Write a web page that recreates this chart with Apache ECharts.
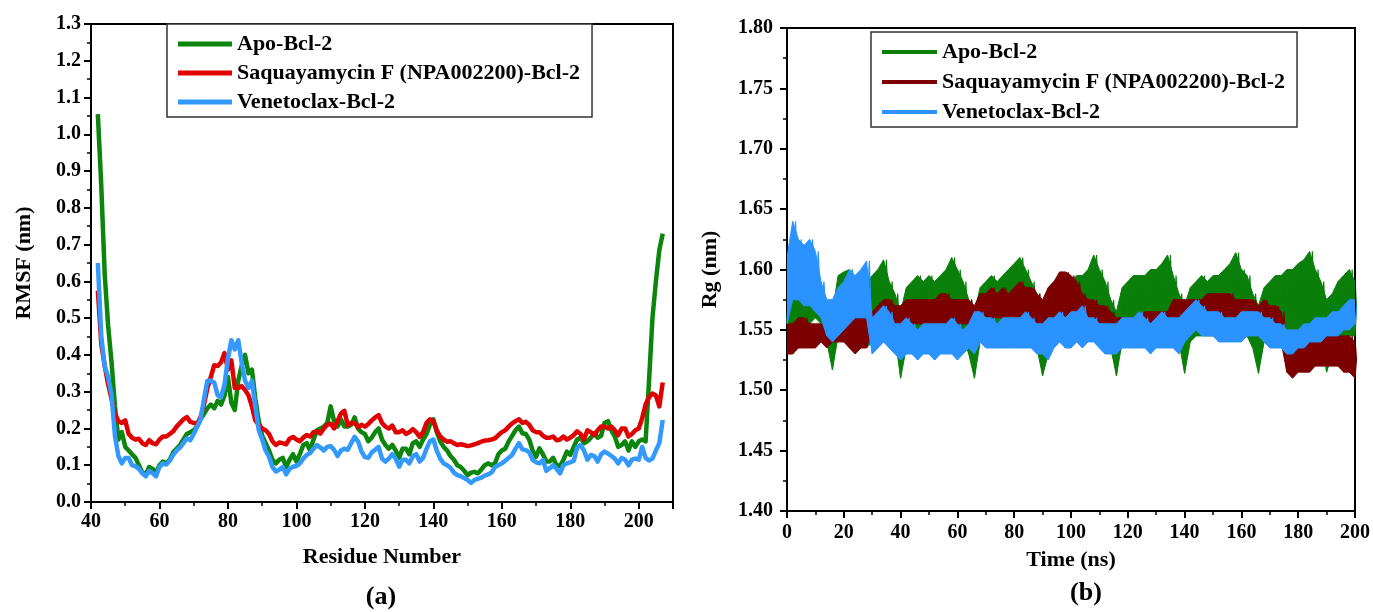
<!DOCTYPE html>
<html>
<head>
<meta charset="utf-8">
<script src="https://cdn.jsdelivr.net/npm/echarts/dist/echarts.min.js"></script>
<style>
  html, body { margin: 0; padding: 0; background: #ffffff; }
  #chart { width: 1373px; height: 612px; }
</style>
</head>
<body>
<div id="chart"></div>
<script>
// ---------- (a) RMSF per residue, residues 42..207 ----------
const firstResidue = 42;
const rmsfApo = [
  1.055, 0.86, 0.62, 0.48, 0.38, 0.26, 0.17, 0.19, 0.15, 0.14,
  0.13, 0.12, 0.10, 0.08, 0.075, 0.095, 0.09, 0.08, 0.10, 0.11,
  0.105, 0.115, 0.135, 0.145, 0.155, 0.17, 0.185, 0.19, 0.195, 0.205,
  0.225, 0.24, 0.255, 0.265, 0.255, 0.275, 0.265, 0.29, 0.34, 0.27,
  0.25, 0.33, 0.37, 0.40, 0.35, 0.36, 0.28, 0.22, 0.18, 0.16,
  0.14, 0.115, 0.105, 0.115, 0.12, 0.095, 0.115, 0.13, 0.11, 0.13,
  0.155, 0.16, 0.14, 0.17, 0.195, 0.20, 0.205, 0.215, 0.26, 0.22,
  0.205, 0.225, 0.205, 0.205, 0.21, 0.23, 0.20, 0.19, 0.185, 0.165,
  0.175, 0.19, 0.20, 0.17, 0.155, 0.145, 0.155, 0.14, 0.12, 0.145,
  0.145, 0.13, 0.16, 0.165, 0.15, 0.17, 0.185, 0.21, 0.225, 0.19,
  0.165, 0.15, 0.14, 0.125, 0.115, 0.10, 0.095, 0.085, 0.073, 0.08,
  0.082, 0.078, 0.088, 0.10, 0.105, 0.10, 0.105, 0.13, 0.14, 0.145,
  0.165, 0.18, 0.195, 0.205, 0.187, 0.185, 0.17, 0.14, 0.123, 0.146,
  0.13, 0.11, 0.11, 0.12, 0.10, 0.098, 0.115, 0.137, 0.128, 0.15,
  0.17, 0.175, 0.16, 0.165, 0.175, 0.187, 0.175, 0.18, 0.215, 0.22,
  0.195, 0.178, 0.15, 0.155, 0.165, 0.14, 0.165, 0.15, 0.165, 0.17,
  0.165, 0.33, 0.50, 0.60, 0.685, 0.73
];
const rmsfSaq = [
  0.575, 0.43, 0.37, 0.32, 0.28, 0.24, 0.22, 0.215, 0.222, 0.185,
  0.175, 0.17, 0.172, 0.16, 0.155, 0.168, 0.16, 0.157, 0.17, 0.178,
  0.178, 0.185, 0.192, 0.205, 0.215, 0.225, 0.231, 0.218, 0.215, 0.213,
  0.23, 0.265, 0.31, 0.34, 0.372, 0.37, 0.38, 0.405, 0.36, 0.385,
  0.31, 0.31, 0.315, 0.305, 0.29, 0.26, 0.222, 0.21, 0.20, 0.195,
  0.185, 0.165, 0.155, 0.162, 0.16, 0.157, 0.172, 0.177, 0.17, 0.165,
  0.175, 0.182, 0.178, 0.19, 0.192, 0.186, 0.20, 0.21, 0.213, 0.20,
  0.22, 0.24, 0.248, 0.209, 0.215, 0.215, 0.204, 0.21, 0.205, 0.212,
  0.222, 0.23, 0.236, 0.215, 0.205, 0.20, 0.208, 0.19, 0.19, 0.195,
  0.185, 0.19, 0.198, 0.19, 0.177, 0.19, 0.215, 0.225, 0.22, 0.195,
  0.178, 0.17, 0.164, 0.165, 0.16, 0.155, 0.157, 0.155, 0.152, 0.154,
  0.157, 0.16, 0.164, 0.167, 0.168, 0.17, 0.173, 0.182, 0.19, 0.195,
  0.205, 0.214, 0.22, 0.225, 0.215, 0.218, 0.21, 0.195, 0.19, 0.19,
  0.18, 0.175, 0.175, 0.178, 0.168, 0.17, 0.178, 0.17, 0.175, 0.182,
  0.192, 0.185, 0.17, 0.195, 0.19, 0.182, 0.195, 0.205, 0.205, 0.20,
  0.205, 0.195, 0.182, 0.20, 0.20, 0.178, 0.185, 0.195, 0.20, 0.228,
  0.265, 0.285, 0.295, 0.29, 0.26, 0.325
];
const rmsfVen = [
  0.65, 0.45, 0.37, 0.34, 0.29, 0.18, 0.125, 0.105, 0.12, 0.12,
  0.10, 0.097, 0.09, 0.078, 0.07, 0.085, 0.078, 0.07, 0.095, 0.105,
  0.102, 0.112, 0.128, 0.14, 0.148, 0.16, 0.173, 0.168, 0.185, 0.205,
  0.225, 0.28, 0.33, 0.33, 0.325, 0.29, 0.285, 0.32, 0.39, 0.44,
  0.415, 0.44, 0.38, 0.33, 0.31, 0.33, 0.26, 0.195, 0.17, 0.14,
  0.123, 0.095, 0.083, 0.088, 0.095, 0.075, 0.09, 0.096, 0.098, 0.105,
  0.118, 0.128, 0.133, 0.145, 0.155, 0.148, 0.14, 0.15, 0.152, 0.142,
  0.125, 0.14, 0.145, 0.142, 0.16, 0.177, 0.165, 0.138, 0.122, 0.12,
  0.135, 0.142, 0.15, 0.118, 0.11, 0.118, 0.13, 0.118, 0.096, 0.115,
  0.115, 0.105, 0.125, 0.13, 0.11, 0.12, 0.145, 0.165, 0.17, 0.14,
  0.118, 0.105, 0.10, 0.093, 0.08, 0.073, 0.07, 0.065, 0.06, 0.052,
  0.06, 0.063, 0.066, 0.072, 0.075, 0.08, 0.095, 0.10, 0.105, 0.112,
  0.12, 0.128, 0.145, 0.16, 0.143, 0.141, 0.135, 0.115, 0.108, 0.105,
  0.114, 0.085, 0.092, 0.10, 0.09, 0.078, 0.10, 0.105, 0.108, 0.112,
  0.148, 0.155, 0.14, 0.115, 0.128, 0.125, 0.11, 0.13, 0.137, 0.132,
  0.125, 0.118, 0.105, 0.12, 0.115, 0.10, 0.115, 0.118, 0.115, 0.15,
  0.12, 0.113, 0.118, 0.14, 0.16, 0.223
];

// ---------- (b) Rg over time: low / high edge of the fluctuation band every 2 ns ----------
const rgStep = 2;
const rgApoLo = [
  1.555, 1.555, 1.555, 1.555, 1.555, 1.56, 1.555, 1.54, 1.517, 1.545,
  1.55, 1.55, 1.555, 1.56, 1.535, 1.54, 1.545, 1.545, 1.55, 1.545,
  1.51, 1.535, 1.545, 1.545, 1.545, 1.545, 1.545, 1.545, 1.545, 1.545,
  1.545, 1.545, 1.53, 1.51, 1.54, 1.545, 1.545, 1.545, 1.545, 1.545,
  1.545, 1.545, 1.545, 1.545, 1.535, 1.512, 1.53, 1.545, 1.545, 1.545,
  1.545, 1.545, 1.545, 1.545, 1.545, 1.545, 1.545, 1.535, 1.512, 1.54,
  1.545, 1.545, 1.545, 1.545, 1.545, 1.545, 1.545, 1.545, 1.545, 1.54,
  1.514, 1.54, 1.545, 1.545, 1.545, 1.545, 1.545, 1.545, 1.545, 1.545,
  1.545, 1.545, 1.535, 1.514, 1.54, 1.545, 1.545, 1.545, 1.545, 1.545,
  1.545, 1.545, 1.545, 1.545, 1.545, 1.515, 1.53, 1.54, 1.545, 1.545,
  1.545
];
const rgApoHi = [
  1.58, 1.598, 1.575, 1.585, 1.58, 1.59, 1.585, 1.575, 1.565, 1.595,
  1.598, 1.60, 1.585, 1.59, 1.59, 1.595, 1.60, 1.608, 1.59, 1.58,
  1.565, 1.585, 1.59, 1.595, 1.59, 1.595, 1.59, 1.595, 1.60, 1.61,
  1.60, 1.59, 1.575, 1.565, 1.585, 1.59, 1.595, 1.59, 1.595, 1.60,
  1.605, 1.61, 1.60, 1.59, 1.58, 1.57, 1.585, 1.59, 1.595, 1.595,
  1.59, 1.595, 1.595, 1.60, 1.612, 1.60, 1.59, 1.575, 1.565, 1.585,
  1.59, 1.595, 1.595, 1.595, 1.60, 1.60, 1.605, 1.612, 1.595, 1.58,
  1.57, 1.585, 1.59, 1.595, 1.59, 1.595, 1.595, 1.60, 1.605, 1.614,
  1.60, 1.595, 1.58, 1.57, 1.585, 1.59, 1.595, 1.595, 1.60, 1.60,
  1.605, 1.608, 1.615, 1.60, 1.59, 1.575, 1.58, 1.59, 1.595, 1.60,
  1.59
];
const rgSaqLo = [
  1.53, 1.53, 1.535, 1.535, 1.535, 1.535, 1.54, 1.535, 1.54, 1.54,
  1.54, 1.535, 1.53, 1.535, 1.535, 1.55, 1.55, 1.555, 1.555, 1.55,
  1.55, 1.55, 1.555, 1.555, 1.555, 1.555, 1.555, 1.555, 1.555, 1.555,
  1.555, 1.555, 1.555, 1.555, 1.56, 1.56, 1.56, 1.56, 1.56, 1.555,
  1.555, 1.56, 1.56, 1.555, 1.55, 1.545, 1.55, 1.555, 1.56, 1.555,
  1.56, 1.555, 1.555, 1.55, 1.55, 1.55, 1.545, 1.54, 1.53, 1.535,
  1.54, 1.54, 1.54, 1.54, 1.54, 1.54, 1.54, 1.545, 1.55, 1.55,
  1.55, 1.55, 1.55, 1.55, 1.555, 1.555, 1.555, 1.555, 1.555, 1.555,
  1.55, 1.55, 1.55, 1.545, 1.545, 1.545, 1.545, 1.54, 1.515, 1.51,
  1.515, 1.515, 1.515, 1.52, 1.52, 1.52, 1.52, 1.52, 1.515, 1.515,
  1.51
];
const rgSaqHi = [
  1.555, 1.555, 1.56, 1.56, 1.555, 1.555, 1.555, 1.55, 1.545, 1.55,
  1.555, 1.555, 1.56, 1.56, 1.565, 1.565, 1.57, 1.575, 1.575, 1.57,
  1.57, 1.575, 1.575, 1.575, 1.575, 1.575, 1.575, 1.58, 1.58, 1.575,
  1.575, 1.575, 1.575, 1.57, 1.58, 1.58, 1.585, 1.58, 1.585, 1.58,
  1.585, 1.59, 1.585, 1.585, 1.58, 1.575, 1.585, 1.59, 1.598, 1.598,
  1.595, 1.59, 1.58, 1.575, 1.575, 1.57, 1.57, 1.565, 1.56, 1.56,
  1.56, 1.56, 1.56, 1.565, 1.565, 1.565, 1.565, 1.565, 1.575, 1.575,
  1.575, 1.575, 1.575, 1.575, 1.58, 1.58, 1.58, 1.58, 1.58, 1.575,
  1.575, 1.575, 1.575, 1.57, 1.575, 1.57, 1.57, 1.565, 1.54, 1.54,
  1.54, 1.54, 1.545, 1.545, 1.545, 1.545, 1.545, 1.545, 1.545, 1.545,
  1.54
];
const rgVenLo = [
  1.555, 1.575, 1.575, 1.57, 1.57, 1.565, 1.56, 1.545, 1.54, 1.545,
  1.55, 1.555, 1.56, 1.56, 1.56, 1.53, 1.535, 1.54, 1.535, 1.53,
  1.525, 1.53, 1.53, 1.525, 1.53, 1.53, 1.525, 1.53, 1.53, 1.53,
  1.525, 1.53, 1.535, 1.53, 1.54, 1.535, 1.535, 1.535, 1.535, 1.535,
  1.535, 1.535, 1.535, 1.535, 1.53, 1.53, 1.525, 1.535, 1.54, 1.535,
  1.535, 1.54, 1.535, 1.54, 1.54, 1.535, 1.53, 1.53, 1.53, 1.535,
  1.535, 1.535, 1.535, 1.535, 1.53, 1.535, 1.535, 1.535, 1.535, 1.53,
  1.54, 1.545, 1.55, 1.545, 1.545, 1.545, 1.54, 1.54, 1.54, 1.54,
  1.54, 1.545, 1.545, 1.545, 1.54, 1.535, 1.535, 1.535, 1.53, 1.53,
  1.535, 1.535, 1.54, 1.54, 1.54, 1.545, 1.545, 1.545, 1.55, 1.55,
  1.555
];
const rgVenHi = [
  1.61, 1.64, 1.625, 1.62, 1.625, 1.615, 1.59, 1.575, 1.575, 1.585,
  1.59, 1.60, 1.595, 1.60, 1.607, 1.56, 1.565, 1.57, 1.565, 1.555,
  1.555, 1.56, 1.555, 1.55, 1.555, 1.555, 1.555, 1.555, 1.555, 1.56,
  1.555, 1.55, 1.555, 1.565, 1.565, 1.56, 1.56, 1.555, 1.56, 1.56,
  1.56, 1.56, 1.565, 1.56, 1.555, 1.555, 1.56, 1.56, 1.565, 1.56,
  1.565, 1.565, 1.57, 1.56, 1.56, 1.555, 1.555, 1.555, 1.555, 1.56,
  1.56, 1.56, 1.565, 1.56, 1.555, 1.56, 1.565, 1.56, 1.56, 1.56,
  1.565, 1.57, 1.575, 1.57, 1.565, 1.565, 1.565, 1.56, 1.56, 1.56,
  1.565, 1.565, 1.565, 1.565, 1.56, 1.56, 1.555, 1.555, 1.55, 1.55,
  1.55, 1.555, 1.555, 1.56, 1.56, 1.56, 1.565, 1.565, 1.57, 1.575,
  1.575
];

const seriesNames = ['Apo-Bcl-2', 'Saquayamycin F (NPA002200)-Bcl-2', 'Venetoclax-Bcl-2'];
const rmsfColors = ['#0b850b', '#e00000', '#3399ff'];
const rgColors = ['#0a7f0a', '#7d0000', '#2b93ff'];

// residue number / value pairs
function residuePairs(values) {
  return values.map((v, i) => [firstResidue + i, v]);
}
// trace that swings between the low and high edge of each sample window
function swingTrace(lo, hi) {
  const pts = [];
  lo.forEach((v, i) => {
    const t = i * rgStep;
    pts.push([t, v]);
    pts.push([t + rgStep / 2, hi[i]]);
  });
  return pts;
}

const FONT = 'Liberation Serif';
const black = '#000';
const tickLabel = { fontFamily: FONT, fontWeight: 'bold', fontSize: 20, color: black };
const titleText = { fontFamily: FONT, fontWeight: 'bold', fontSize: 22, color: black };
const axisLine = { show: true, lineStyle: { color: black, width: 2 } };
const axisTick = { show: true, inside: false, length: 7, lineStyle: { color: black, width: 2 } };
const minorTick = { show: true, splitNumber: 2, length: 4, lineStyle: { color: black, width: 1.5 } };

const rgPrefix = 'Rg · ';

// Rg series: a filled polygon between the low and high edges, plus a swinging trace over it
function rgSeries(lo, hi, k) {
  const color = rgColors[k];
  return [
    {
      type: 'custom', name: rgPrefix + seriesNames[k], xAxisIndex: 1, yAxisIndex: 1,
      color: color, z: 2 + k, silent: true, clip: true,
      data: [[0, lo[0]]],
      renderItem: function (params, api) {
        const upper = hi.map((v, i) => api.coord([i * rgStep, v]));
        const lower = lo.map((v, i) => api.coord([i * rgStep, v])).reverse();
        return {
          type: 'polygon',
          shape: { points: upper.concat(lower) },
          style: { fill: color, stroke: color, lineWidth: 1 }
        };
      }
    },
    {
      type: 'line', name: 'rg-trace-' + k, xAxisIndex: 1, yAxisIndex: 1,
      symbol: 'none', showSymbol: false, silent: true, clip: true, z: 2 + k,
      color: color, data: swingTrace(lo, hi),
      lineStyle: { color: color, width: 1.2 }
    }
  ];
}

const option = {
  backgroundColor: '#ffffff',
  animation: false,
  grid: [
    { left: 91, top: 24, width: 582, height: 478, show: true, borderColor: black, borderWidth: 2, backgroundColor: 'transparent' },
    { left: 787, top: 28, width: 570, height: 483, show: true, borderColor: black, borderWidth: 2, backgroundColor: 'transparent' }
  ],
  xAxis: [
    {
      type: 'value', gridIndex: 0, min: 40, max: 210, interval: 20,
      name: 'Residue Number', nameLocation: 'middle', nameGap: 44, nameTextStyle: titleText,
      axisLine, axisTick, minorTick,
      axisLabel: Object.assign({ margin: 10, showMaxLabel: false }, tickLabel),
      splitLine: { show: false }
    },
    {
      type: 'value', gridIndex: 1, min: 0, max: 200, interval: 20,
      name: 'Time (ns)', nameLocation: 'middle', nameGap: 38, nameTextStyle: titleText,
      axisLine, axisTick, minorTick,
      axisLabel: Object.assign({ margin: 12 }, tickLabel),
      splitLine: { show: false }
    }
  ],
  yAxis: [
    {
      type: 'value', gridIndex: 0, min: 0, max: 1.3, interval: 0.1,
      name: 'RMSF (nm)', nameLocation: 'middle', nameGap: 56, nameTextStyle: titleText,
      axisLine, axisTick, minorTick,
      axisLabel: Object.assign({ margin: 10, formatter: v => v.toFixed(1) }, tickLabel),
      splitLine: { show: false }
    },
    {
      type: 'value', gridIndex: 1, min: 1.40, max: 1.80, interval: 0.05,
      name: 'Rg (nm)', nameLocation: 'middle', nameGap: 66, nameTextStyle: titleText,
      axisLine, axisTick, minorTick,
      axisLabel: Object.assign({ margin: 14, formatter: v => v.toFixed(2) }, tickLabel),
      splitLine: { show: false }
    }
  ],
  legend: [
    {
      left: 167, top: 24, orient: 'vertical', selectedMode: false, z: 10,
      data: seriesNames, icon: 'rect', itemWidth: 54, itemHeight: 5, itemGap: 7,
      padding: [9, 12, 4, 11], borderColor: '#333', borderWidth: 1.5, backgroundColor: '#fff',
      textStyle: Object.assign({ lineHeight: 22 }, titleText)
    },
    {
      left: 871, top: 32, orient: 'vertical', selectedMode: false, z: 10,
      data: seriesNames.map(n => ({ name: rgPrefix + n, itemStyle: { color: rgColors[seriesNames.indexOf(n)] } })),
      icon: 'rect', itemWidth: 55, itemHeight: 4, itemGap: 8,
      formatter: n => n.replace(rgPrefix, ''),
      padding: [9, 12, 4, 11], borderColor: '#333', borderWidth: 1.5, backgroundColor: '#fff',
      textStyle: Object.assign({ lineHeight: 22 }, titleText)
    }
  ],
  graphic: [
    { type: 'text', x: 381, y: 597, style: { text: '(a)', font: 'bold 26px "Liberation Serif"', fill: black, align: 'center', verticalAlign: 'middle' } },
    { type: 'text', x: 1086, y: 593, style: { text: '(b)', font: 'bold 26px "Liberation Serif"', fill: black, align: 'center', verticalAlign: 'middle' } }
  ],
  series: [
    ...[rmsfApo, rmsfSaq, rmsfVen].map((vals, k) => ({
      type: 'line', name: seriesNames[k], xAxisIndex: 0, yAxisIndex: 0,
      data: residuePairs(vals), symbol: 'none', showSymbol: false,
      color: rmsfColors[k], lineStyle: { color: rmsfColors[k], width: 4.5, join: 'round' },
      z: 2 + k
    })),
    ...rgSeries(rgApoLo, rgApoHi, 0),
    ...rgSeries(rgSaqLo, rgSaqHi, 1),
    ...rgSeries(rgVenLo, rgVenHi, 2)
  ]
};

const chart = echarts.init(document.getElementById('chart'), null, { renderer: 'canvas' });
chart.setOption(option);
</script>
</body>
</html>
